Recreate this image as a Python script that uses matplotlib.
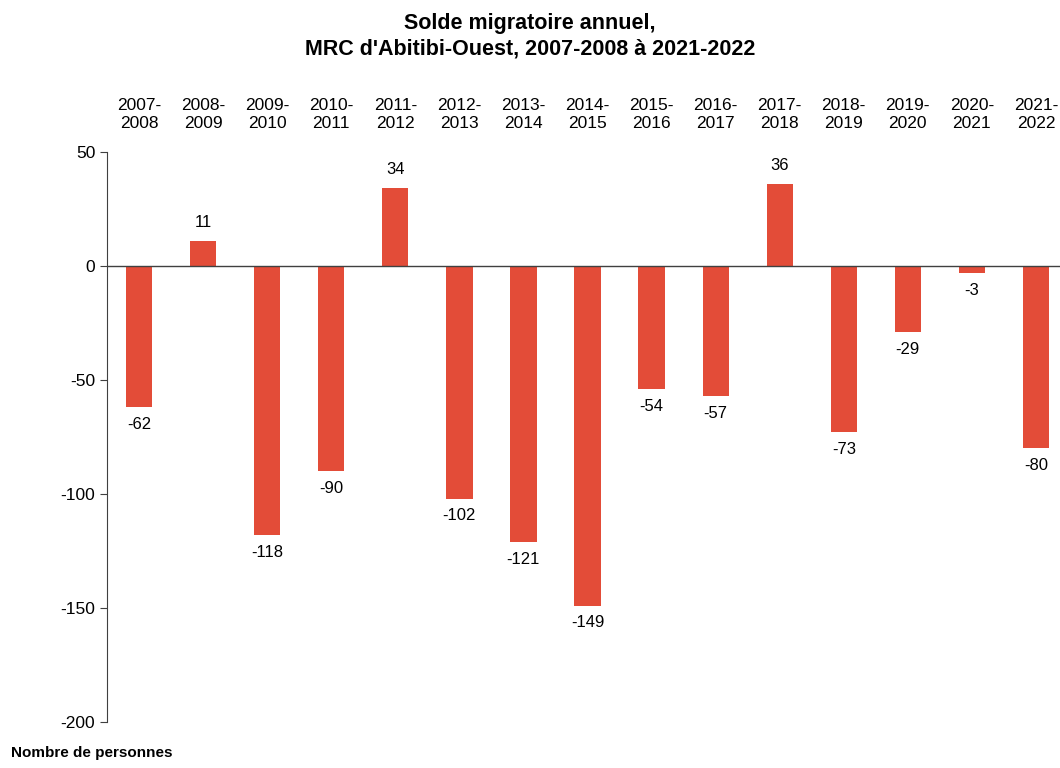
import matplotlib.pyplot as plt

plt.rcParams['font.family'] = ['Liberation Sans', 'DejaVu Sans']
plt.rcParams['axes.unicode_minus'] = False

# data
periodes = ['2007-\n2008', '2008-\n2009', '2009-\n2010', '2010-\n2011', '2011-\n2012',
            '2012-\n2013', '2013-\n2014', '2014-\n2015', '2015-\n2016', '2016-\n2017',
            '2017-\n2018', '2018-\n2019', '2019-\n2020', '2020-\n2021', '2021-\n2022']
solde = [-62, 11, -118, -90, 34, -102, -121, -149, -54, -57, 36, -73, -29, -3, -80]

fig = plt.figure(figsize=(10.6, 7.68), dpi=100)
ax = fig.add_axes([107 / 1060, 1 - 722 / 768, 1 - 107 / 1060, (722 - 152) / 768])

x = list(range(len(solde)))
ax.bar(x, solde, width=0.41, color='#E34C38', zorder=2)
ax.axhline(0, color='#404040', lw=1, zorder=3)

for xi, v in zip(x, solde):
    if v >= 0:
        ax.annotate(str(v), (xi, v), xytext=(0, 8), textcoords='offset points',
                    ha='center', va='bottom', fontsize=12)
    else:
        ax.annotate(str(v), (xi, v), xytext=(0, -7), textcoords='offset points',
                    ha='center', va='top', fontsize=12)

ax.set_ylim(-200, 50)
ax.set_yticks([-200, -150, -100, -50, 0, 50])
ax.set_xlim(-0.5, (1060 - 108) / 64 - 0.5)
ax.set_xticks(x)
ax.set_xticklabels(periodes, fontsize=12.5, linespacing=1.25)
ax.xaxis.tick_top()
ax.tick_params(axis='x', length=0, pad=15)
ax.tick_params(axis='y', labelsize=12.5, length=5, color='#404040', direction='out')

for s in ['top', 'right', 'bottom']:
    ax.spines[s].set_visible(False)
ax.spines['left'].set_color('#404040')

fig.text(0.5, 0.983, "Solde migratoire annuel,\nMRC d'Abitibi-Ouest, 2007-2008 à 2021-2022",
         ha='center', va='top', fontsize=15.5, fontweight='bold', linespacing=1.3)
fig.text(0.01, 0.02, 'Nombre de personnes', ha='left', va='center',
         fontsize=11, fontweight='bold')

fig.savefig('out.png', dpi=100)
